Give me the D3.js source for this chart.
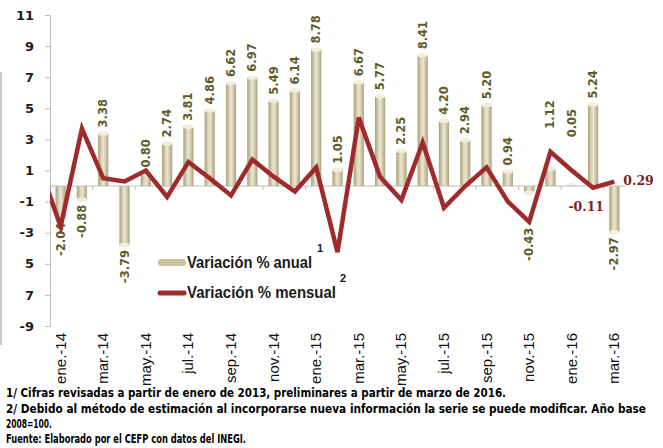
<!DOCTYPE html>
<html>
<head>
<meta charset="utf-8">
<script src="https://cdnjs.cloudflare.com/ajax/libs/d3/7.8.5/d3.min.js"></script>
<style>
  body { margin: 0; background: #fff; }
  svg { display: block; }
</style>
</head>
<body>
<svg id="chart"></svg>
<script>
// months shown on the category axis
let months = ['ene.-14','feb.-14','mar.-14','abr.-14','may.-14','jun.-14','jul.-14','ago.-14','sep.-14','oct.-14','nov.-14','dic.-14',
  'ene.-15','feb.-15','mar.-15','abr.-15','may.-15','jun.-15','jul.-15','ago.-15','sep.-15','oct.-15','nov.-15','dic.-15',
  'ene.-16','feb.-16','mar.-16']
// Variación % anual (bars)
let anual = [-2.04,-0.88,3.38,-3.79,0.80,2.74,3.81,4.86,6.62,6.97,5.49,6.14,
  8.78,1.05,6.67,5.77,2.25,8.41,4.20,2.94,5.20,0.94,-0.43,1.12,
  0.05,5.24,-2.97]
// Variación % mensual (line)
let mensual = [-2.6,3.7,0.5,0.3,1.0,-0.7,1.55,0.5,-0.6,1.7,0.6,-0.35,
  1.2,-4.25,4.4,0.6,-0.9,2.8,-1.4,0.0,1.2,-1.0,-2.3,2.2,
  1.0,-0.11,0.29]
let mensualPrev = 1.3   // dic.-13, only the segment into ene.-14 shows
let yTicks = [11,9,7,5,3,1,-1,-3,-5,-7,-9]
let yTickLabels = ['11','9','7','5','3','1','-1','-3','5','7','-9']
let xTickLabels = months.filter((m, i) => i % 2 == 0)
let legendLabels = ['Variación % anual', 'Variación % mensual']
let notes = [
  '1/ Cifras revisadas a partir de enero de 2013,  preliminares a partir de marzo de 2016.',
  '2/ Debido al método de estimación al incorporarse nueva información la serie se puede modificar. Año base',
  '2008=100.',
  'Fuente: Elaborado por el CEFP con datos del INEGI.'
]

let svgWidth = 663, svgHeight = 448
let plotLeft = 50, plotRight = 625, plotTop = 15, plotBottom = 326
let svg = d3.select('#chart').attr('width', svgWidth).attr('height', svgHeight)

let x = d3.scaleBand().domain(months).range([plotLeft, plotRight]).paddingInner(0.52).paddingOuter(0.26)
let y = d3.scaleLinear().domain([-9, 11]).range([plotBottom, plotTop])
let cx = m => x(m) + x.bandwidth() / 2

let barColor = '#cbc29e', lineColor = '#9f2a2c', labelColor = '#5e5b2b'

// gradient for the cylinder look of the bars
let defs = svg.append('defs')
let grad = defs.append('linearGradient').attr('id', 'barGrad').attr('x1', 0).attr('x2', 1).attr('y1', 0).attr('y2', 0)
grad.append('stop').attr('offset', '0%').attr('stop-color', '#a89e76')
grad.append('stop').attr('offset', '40%').attr('stop-color', '#e4ddc3')
grad.append('stop').attr('offset', '55%').attr('stop-color', '#e9e4cf')
grad.append('stop').attr('offset', '100%').attr('stop-color', '#aaa07a')
defs.append('clipPath').attr('id', 'plotClip')
  .append('rect').attr('x', plotLeft).attr('y', 0).attr('width', plotRight - plotLeft + 20).attr('height', svgHeight)

// faint frame line on the left edge
svg.append('line').attr('x1', 1).attr('x2', 1).attr('y1', 72).attr('y2', 345)
  .attr('stroke', '#c9c9c9').attr('stroke-width', 2)

// y axis
let yAxis = svg.append('g').attr('transform', `translate(${plotLeft},0)`)
  .call(d3.axisLeft(y).tickValues(yTicks).tickSize(5).tickPadding(11).tickFormat((d, i) => yTickLabels[i]))
yAxis.select('.domain').attr('stroke', '#bdbdbd')
yAxis.selectAll('.tick line').attr('stroke', '#bdbdbd')
yAxis.selectAll('.tick text').attr('fill', '#1c1c1c')
  .style('font-family', '"DejaVu Sans", Verdana, sans-serif').style('font-size', '13px').style('font-weight', 'bold')

// bars
let bars = svg.append('g')
bars.selectAll('rect').data(anual).enter().append('rect')
  .attr('x', (d, i) => x(months[i]))
  .attr('y', d => y(Math.max(0, d)))
  .attr('width', x.bandwidth())
  .attr('height', d => Math.abs(y(d) - y(0)))
  .attr('fill', 'url(#barGrad)')
bars.selectAll('ellipse').data(anual).enter().append('ellipse')
  .attr('cx', (d, i) => cx(months[i]))
  .attr('cy', d => y(d))
  .attr('rx', x.bandwidth() / 2)
  .attr('ry', 2.2)
  .attr('fill', '#f1eddf')

// zero line with ticks every two months
let gap = (x.step() - x.bandwidth()) / 2
let zero = svg.append('g')
zero.append('line').attr('x1', plotLeft).attr('x2', plotRight).attr('y1', y(0)).attr('y2', y(0))
  .attr('stroke', '#bdbdbd')
zero.selectAll('line.tk').data(xTickLabels).enter().append('line').attr('class', 'tk')
  .attr('x1', d => x(d) - gap)
  .attr('x2', d => x(d) - gap)
  .attr('y1', y(0)).attr('y2', y(0) + 4)
  .attr('stroke', '#bdbdbd')

// bar labels, rotated
let nudge = { 'nov.-15': 30, 'dic.-15': -34, 'ene.-16': -42 }
svg.append('g').selectAll('text').data(anual).enter().append('text')
  .attr('transform', (d, i) => {
    let yy = d >= 0 ? y(d) - 6 : y(d) + 5
    yy += nudge[months[i]] || 0
    return `translate(${cx(months[i]) + 4},${yy}) rotate(-90)`
  })
  .attr('text-anchor', d => d >= 0 ? 'start' : 'end')
  .attr('fill', labelColor)
  .style('font-family', '"DejaVu Sans", Verdana, sans-serif').style('font-size', '11.5px').style('font-weight', 'bold')
  .text(d => d.toFixed(2))

// monthly line
let linePts = [[cx(months[0]) - x.step(), mensualPrev]].concat(mensual.map((d, i) => [cx(months[i]), d]))
let lineGen = d3.line().x(d => d[0]).y(d => y(d[1]))
svg.append('path').datum(linePts)
  .attr('clip-path', 'url(#plotClip)')
  .attr('d', lineGen)
  .attr('fill', 'none')
  .attr('stroke', lineColor)
  .attr('stroke-width', 4.5)
  .attr('stroke-linejoin', 'miter')

// labels on the last two monthly points
let n = mensual.length
let lineLabels = svg.append('g').attr('fill', '#7d1f22')
  .style('font-family', '"DejaVu Serif", Georgia, serif').style('font-size', '12.5px').style('font-weight', 'bold')
lineLabels.append('text').attr('x', cx(months[n - 2]) + 11).attr('y', y(mensual[n - 2]) + 23)
  .attr('text-anchor', 'end').text(mensual[n - 2].toFixed(2))
lineLabels.append('text').attr('x', cx(months[n - 1]) + 9).attr('y', y(mensual[n - 1]) + 3)
  .text(mensual[n - 1].toFixed(2))

// x axis labels
svg.append('g').selectAll('text').data(xTickLabels).enter().append('text')
  .attr('transform', d => `translate(${cx(d) + 5},333) rotate(-90)`)
  .attr('text-anchor', 'end')
  .attr('fill', '#111')
  .style('font-family', '"Liberation Sans", sans-serif').style('font-size', '15px')
  .text(d => d)

// legend
let legend = svg.append('g')
  .style('font-family', '"Liberation Sans", sans-serif').style('font-weight', 'bold').attr('fill', '#1a1a1a')
legend.append('rect').attr('x', 158).attr('y', 259).attr('width', 28).attr('height', 7).attr('rx', 3)
  .attr('fill', barColor)
legend.append('line').attr('x1', 160).attr('x2', 184).attr('y1', 293).attr('y2', 293)
  .attr('stroke', lineColor).attr('stroke-width', 5).attr('stroke-linecap', 'round')
legend.append('text').attr('x', 187).attr('y', 268).style('font-size', '16px')
  .attr('textLength', 125).attr('lengthAdjust', 'spacingAndGlyphs').text(legendLabels[0])
legend.append('text').attr('x', 317).attr('y', 252).style('font-size', '11px').text('1')
legend.append('text').attr('x', 187).attr('y', 298).style('font-size', '16px')
  .attr('textLength', 149).attr('lengthAdjust', 'spacingAndGlyphs').text(legendLabels[1])
legend.append('text').attr('x', 340).attr('y', 282).style('font-size', '11px').text('2')

// footnotes
let noteY = [397, 413, 428, 443], noteW = [500, 640, 46, 240]
svg.append('g').selectAll('text').data(notes).enter().append('text')
  .attr('x', 6).attr('y', (d, i) => noteY[i])
  .attr('textLength', (d, i) => noteW[i]).attr('lengthAdjust', 'spacingAndGlyphs')
  .attr('fill', '#000')
  .style('font-family', '"DejaVu Sans Condensed", "DejaVu Sans", sans-serif').style('font-size', '11.5px').style('font-weight', 'bold')
  .text(d => d)
</script>
</body>
</html>
